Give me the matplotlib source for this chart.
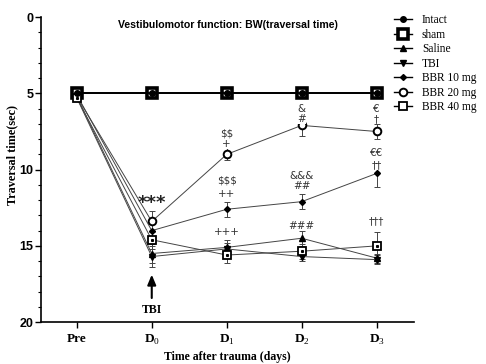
import numpy as np
import matplotlib.pyplot as plt
from matplotlib.lines import Line2D

plt.rcParams["mathtext.fontset"] = "custom"
plt.rcParams["mathtext.rm"] = "Liberation Serif"
plt.rcParams["mathtext.bf"] = "Liberation Serif:bold"

# Data (traversal time, sec)
days = ["Pre", "D0", "D1", "D2", "D3"]
tick_labels = ["Pre", r"$\mathbf{D}_\mathrm{0}$", r"$\mathbf{D}_\mathrm{1}$",
               r"$\mathbf{D}_\mathrm{2}$", r"$\mathbf{D}_\mathrm{3}$"]

intact = [5.0, 5.0, 5.0, 5.0, 5.0]
sham = [5.0, 5.0, 5.0, 5.0, 5.0]
saline = [5.2, 15.5, 15.1, 14.5, 15.8]
tbi = [5.3, 15.7, 15.2, 15.7, 15.9]
bbr10 = [5.1, 14.0, 12.6, 12.1, 10.25]
bbr20 = [5.2, 13.4, 9.0, 7.1, 7.5]
bbr40 = [5.3, 14.6, 15.6, 15.35, 15.0]

err_saline = [0.1, 0.6, 0.5, 0.5, 0.3]
err_tbi = [0.1, 0.7, 0.4, 0.3, 0.3]
err_bbr10 = [0.1, 0.5, 0.5, 0.5, 0.9]
err_bbr20 = [0.1, 0.7, 0.4, 0.7, 0.5]
err_bbr40 = [0.1, 0.6, 0.5, 0.5, 0.9]

# significance marks: (day index, y value, text)
marks = [
    (1, 12.2, "***"),
    (2, 7.6, r"\$\$"), (2, 8.3, "+"),
    (2, 10.7, r"\$\$\$"), (2, 11.6, "++"),
    (2, 14.1, "+++"),
    (3, 6.0, "&"), (3, 6.7, "#"),
    (3, 10.4, "&&&"), (3, 11.1, "##"),
    (3, 13.7, "###"),
    (4, 6.0, "\u20ac"), (4, 6.7, "\u2020"),
    (4, 8.9, "\u20ac\u20ac"), (4, 9.7, "\u2020\u2020"),
    (4, 13.4, "\u2020\u2020\u2020"),
]

x = np.arange(len(days))
lc = "#444444"

fig = plt.figure(figsize=(4.86, 3.64), dpi=100)
ax = fig.add_axes([0.084, 0.115, 0.768, 0.838])

groups = [
    ("Intact", intact, None, dict(marker="o", ms=4, mfc="black", mec="black")),
    ("sham", sham, None, dict(marker="s", ms=7, mfc="white", mec="black", mew=2.6)),
    ("Saline", saline, err_saline, dict(marker="^", ms=4.5, mfc="black", mec="black")),
    ("TBI", tbi, err_tbi, dict(marker="v", ms=4.5, mfc="black", mec="black")),
    ("BBR 10 mg", bbr10, err_bbr10, dict(marker="D", ms=3, mfc="black", mec="black")),
    ("BBR 20 mg", bbr20, err_bbr20, dict(marker="o", ms=5.5, mfc="white", mec="black", mew=1.4)),
    ("BBR 40 mg", bbr40, err_bbr40, dict(marker="s", ms=5.5, mfc="white", mec="black", mew=1.3)),
]

handles = []
for name, vals, err, style in groups:
    lw = 1.3 if name in ("Intact", "sham") else 0.7
    col = "black" if name in ("Intact", "sham") else lc
    if err is not None:
        ax.errorbar(x, vals, yerr=err, fmt="none", ecolor=lc, elinewidth=0.7,
                    capsize=2.5, capthick=0.7, zorder=2)
    z = 4 if name == "Intact" else 3
    ax.plot(x, vals, color=col, lw=lw, zorder=z, **style)
    handles.append(Line2D([], [], color="black", lw=1.0, label=name, **style))

# dots inside BBR 40 squares
ax.plot(x, bbr40, "s", ms=1.2, color="black", zorder=4)

for i, yv, txt in marks:
    if txt == "***":
        ax.text(x[i], yv, txt, ha="center", va="center", fontsize=13,
                fontweight="bold", color="#222222")
    else:
        ax.text(x[i], yv, txt, ha="center", va="center", fontsize=7.5,
                color="#333333", family=["DejaVu Sans"],
                bbox=dict(boxstyle="square,pad=0", fc="white", ec="none"),
                zorder=5)

# TBI arrow
ax.annotate("", xy=(x[1], 16.7), xytext=(x[1], 18.6),
            arrowprops=dict(arrowstyle="-|>,head_width=0.25,head_length=0.6",
                            color="black", lw=1.5))
ax.text(x[1], 19.2, "TBI", ha="center", va="center", fontsize=8.5,
        fontweight="bold", family="Liberation Serif")

ax.set_xlim(-0.48, 4.5)
ax.set_ylim(20, 0)
ax.set_yticks([0, 5, 10, 15, 20])
ax.set_yticks(np.arange(0, 21, 1), minor=True)
ax.set_xticks(x)
ax.set_xticklabels(tick_labels, fontsize=9.5, fontweight="bold", family="Liberation Serif")
for lab in ax.get_yticklabels():
    lab.set_fontweight("bold")
    lab.set_family("Liberation Sans")
    lab.set_fontsize(9)
ax.tick_params(axis="y", which="major", length=4, width=1, pad=1.5)
ax.tick_params(axis="y", which="minor", length=2.5, width=0.8)
ax.tick_params(axis="x", length=4, width=1, pad=4)

ax.spines["top"].set_visible(False)
ax.spines["right"].set_visible(False)
ax.spines["left"].set_linewidth(1.2)
ax.spines["bottom"].set_linewidth(1.2)

fig.text(0.026, 0.574, "Traversal time(sec)", rotation=90, ha="center", va="center",
         fontsize=8.8, fontweight="bold", family="Liberation Serif")
fig.text(0.468, 0.02, "Time after trauma (days)", ha="center", va="center",
         fontsize=8.5, fontweight="bold", family="Liberation Serif")
ax.text(0.5, 0.99, "Vestibulomotor function: BW(traversal time)",
        transform=ax.transAxes, ha="center", va="top", fontsize=7.6,
        fontweight="bold", family="Liberation Sans")

fig.legend(handles=handles, loc="upper left", bbox_to_anchor=(0.79, 0.99),
           frameon=False, prop={"family": "Liberation Serif", "size": 8.3},
           handlelength=1.5, labelspacing=0.22, handletextpad=0.9)

fig.savefig("out.png", dpi=100)
